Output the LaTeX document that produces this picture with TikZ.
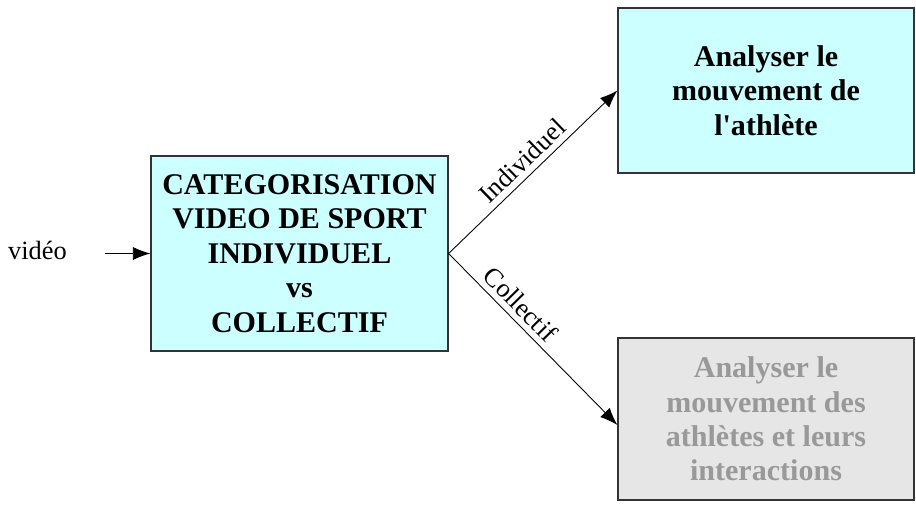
\documentclass[tikz,border=0pt]{standalone}
\usepackage{fontspec}
\setmainfont{Liberation Serif}
\usetikzlibrary{arrows.meta,positioning,calc}
\definecolor{PaleCyan}{HTML}{CCFFFF}
\definecolor{PaleGrey}{HTML}{E6E6E6}
\definecolor{FadedText}{HTML}{999999}
\definecolor{EdgeGrey}{HTML}{333333}

\begin{document}
\begin{tikzpicture}[
    stagebox/.style={draw=EdgeGrey, line width=0.7pt, align=center, inner sep=0pt,
      font=\fontsize{17.1}{19.6}\selectfont\bfseries},
    flow/.style={-{Latex[length=10pt,width=7.5pt]}, line width=0.5pt},
    edgelabel/.style={font=\fontsize{15}{17}\selectfont}
  ]
    \useasboundingbox (0,0) rectangle (18.32,10.12);
    \node[stagebox, fill=PaleCyan, minimum width=5.94cm, minimum height=3.90cm] (main) at (5.99,5.05)
      {CATEGORISATION\\VIDEO DE SPORT\\INDIVIDUEL\\vs\\COLLECTIF};
    \node[stagebox, fill=PaleCyan, minimum width=5.92cm, minimum height=3.30cm] (indiv) at (15.32,8.31)
      {Analyser le\\mouvement de\\l\textquotesingle athlète};
    \node[stagebox, fill=PaleGrey, text=FadedText, minimum width=5.92cm, minimum height=3.24cm] (coll) at (15.32,1.74)
      {Analyser le\\mouvement des\\athlètes et leurs\\interactions};
    \node[edgelabel] (input) at (0.75,5.12) {vidéo};
    \coordinate (feed) at (2.10,5.05);
    \draw[flow] (feed) -- (main.west);
    \draw[flow] (main.east) -- (indiv.west) node[edgelabel, midway, sloped, above] {Individuel};
    \draw[flow] (main.east) -- ($(coll.west)+(0,-0.12)$) node[edgelabel, pos=0.36, sloped, above] {Collectif};
  \end{tikzpicture}
\end{document}
